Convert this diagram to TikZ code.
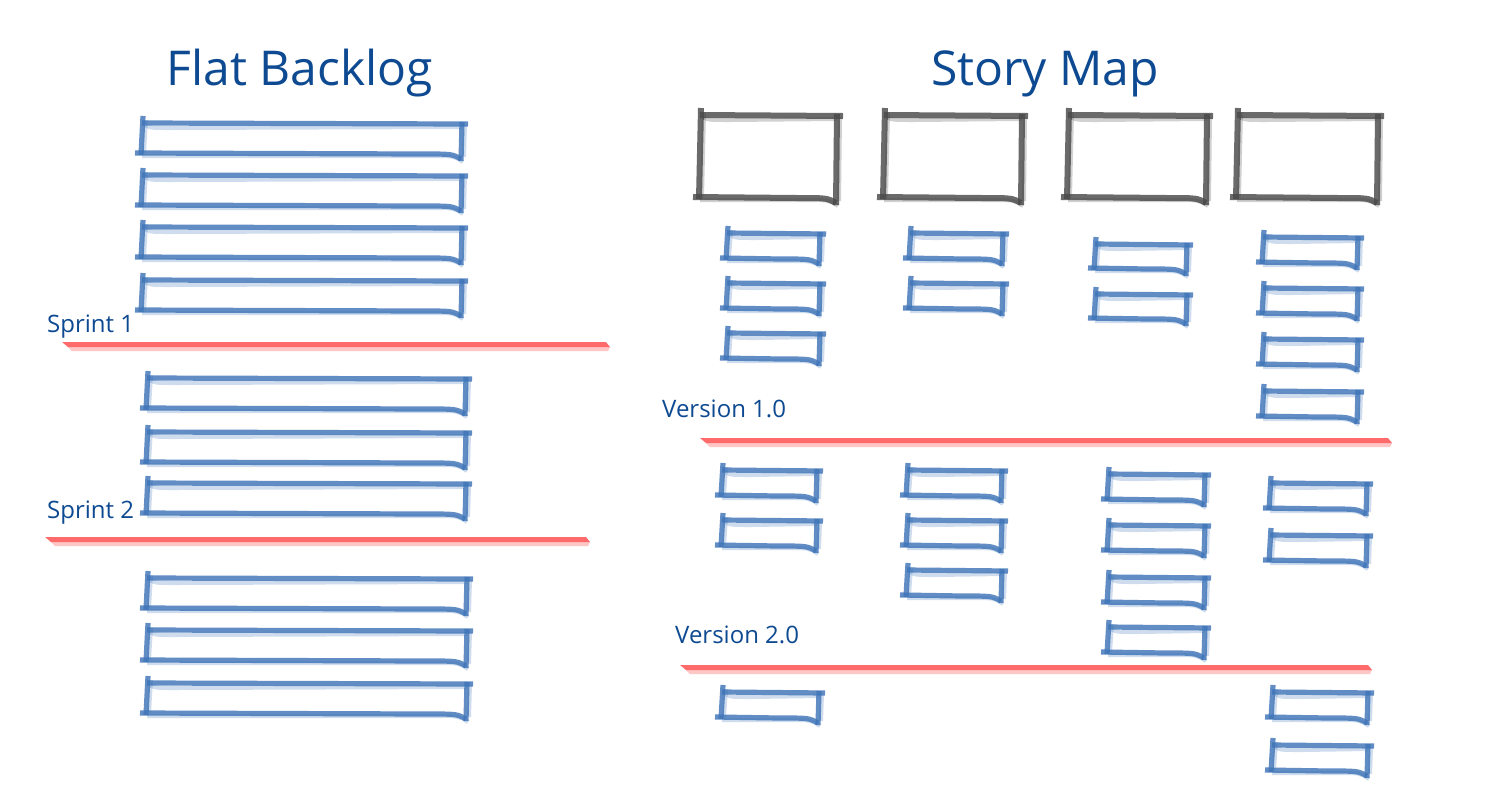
\documentclass[tikz,border=0pt]{standalone}
\usepackage{fontspec}
\setmainfont{Open Sans}
\usetikzlibrary{fit}
\definecolor{txtblue}{HTML}{0E4A91}
\definecolor{cardblue}{HTML}{3F75B8}
\definecolor{cardgray}{HTML}{4A4A4A}
\definecolor{linered}{HTML}{FF5C5C}
\tikzset{
  x=1pt, y=-1pt,
  title/.style={font=\fontsize{48}{56}\selectfont, text=txtblue, inner sep=0pt, anchor=base},
  lbl/.style={font=\fontsize{24}{28}\selectfont, text=txtblue, inner sep=0pt, anchor=base west},
  bluecard/.style={draw=cardblue},
  graycard/.style={draw=cardgray, stroke/.append style={line width=6pt}},
  stroke/.style={line width=5.2pt, draw opacity=.82, line cap=butt},
  halo/.style={line width=4pt, draw opacity=.25, line cap=butt},
  redmain/.style={fill=linered, fill opacity=.9},
  redhalo/.style={fill=linered, fill opacity=.35},
}
% name, x1, y1, x2, y2, style
\newcommand\card[6]{%
  \coordinate (#1-a) at (#2,#3);
  \coordinate (#1-b) at (#4,#5);
  \node[fit=(#1-a)(#1-b), inner sep=0pt] (#1) {};
  \begin{scope}[#6]
    \draw[stroke] ({#2+1},{#3-7}) -- ({#2-1},{#5+2});
    \draw[halo] ({#2+4},{#3-3}) -- ({#2+2},{#5});
    \draw[stroke] ({#2},{#3}) -- ({#4+6},{#3+1});
    \draw[halo] ({#2+3},{#3+2}) .. controls ({#2+8},{#3+5}) .. ({#2+30},{#3+5}) -- ({#4},{#3+4});
    \draw[stroke] ({#4},{#3-1}) -- ({#4-1},{#5+8});
    \draw[halo] ({#4+3},{#3+2}) -- ({#4+2},{#5+4});
    \draw[stroke] ({#2-7},{#5}) -- ({#4-40},{#5+1}) .. controls ({#4-10},{#5+1}) .. ({#4-1},{#5+6});
    \draw[halo] ({#2},{#5+3}) -- ({#4-30},{#5+3}) .. controls ({#4-8},{#5+3}) .. ({#4+1},{#5+9});
  \end{scope}}
% name, x1, x2, y
\newcommand\redline[4]{%
  \coordinate (#1-l) at (#2,#4);
  \coordinate (#1-r) at (#3,#4);
  \fill[redmain] (#2,{#4-4}) -- ({#3-4},{#4-4}) -- ({#3},{#4+1}) -- ({#2+6},{#4+1}) -- cycle;
  \fill[redhalo] ({#2+6},{#4+1}) -- ({#3},{#4+1}) -- ({#3-2},{#4+5}) -- ({#2+10},{#4+5}) -- cycle;}
\begin{document}
\begin{tikzpicture}
\useasboundingbox (0,0) rectangle (1497,807);
\fill[white] (0,0) rectangle (1497,807);

% titles
\node[title] (t1) at (300,85) {Flat Backlog};
\node[title] (t2) at (1045,85) {Story Map};

% flat backlog
\card{f1}{142}{123}{462}{153}{bluecard}
\card{f2}{142}{175}{462}{205}{bluecard}
\card{f3}{142}{227}{462}{257}{bluecard}
\card{f4}{142}{280}{462}{310}{bluecard}
\node[lbl] (s1) at (47,332) {Sprint 1};
\redline{r1}{62}{610}{346}
\card{f5}{147}{378}{466}{408}{bluecard}
\card{f6}{147}{432}{466}{462}{bluecard}
\card{f7}{147}{483}{466}{513}{bluecard}
\node[lbl] (s2) at (47,518) {Sprint 2};
\redline{r2}{45}{590}{541}
\card{f8}{147}{578}{467}{608}{bluecard}
\card{f9}{147}{630}{467}{660}{bluecard}
\card{f10}{147}{683}{467}{713}{bluecard}

% story map: activities
\card{a1}{700}{115}{837}{197}{graycard}
\card{a2}{884}{115}{1022}{197}{graycard}
\card{a3}{1068}{115}{1207}{197}{graycard}
\card{a4}{1237}{115}{1378}{197}{graycard}

% release 1
\card{c11}{727}{233}{820}{258}{bluecard}
\card{c12}{727}{283}{820}{308}{bluecard}
\card{c13}{727}{333}{820}{358}{bluecard}
\card{c21}{910}{233}{1003}{258}{bluecard}
\card{c22}{910}{283}{1003}{308}{bluecard}
\card{c31}{1095}{244}{1187}{268}{bluecard}
\card{c32}{1095}{294}{1187}{318}{bluecard}
\card{c41}{1263}{237}{1358}{262}{bluecard}
\card{c42}{1263}{288}{1358}{313}{bluecard}
\card{c43}{1263}{339}{1358}{364}{bluecard}
\card{c44}{1263}{391}{1358}{416}{bluecard}
\node[lbl] (v1) at (662,417) {Version 1.0};
\redline{r3}{700}{1392}{442}

% release 2
\card{d11}{722}{470}{817}{495}{bluecard}
\card{d12}{722}{520}{817}{545}{bluecard}
\card{d21}{907}{470}{1002}{495}{bluecard}
\card{d22}{907}{520}{1002}{545}{bluecard}
\card{d23}{907}{570}{1002}{595}{bluecard}
\card{d31}{1108}{474}{1205}{499}{bluecard}
\card{d32}{1108}{525}{1205}{550}{bluecard}
\card{d33}{1108}{577}{1205}{602}{bluecard}
\card{d34}{1108}{627}{1205}{652}{bluecard}
\card{d41}{1270}{483}{1367}{508}{bluecard}
\card{d42}{1270}{535}{1367}{560}{bluecard}
\node[lbl] (v2) at (675,643) {Version 2.0};
\redline{r4}{680}{1372}{669}

% later
\card{e11}{722}{692}{819}{717}{bluecard}
\card{e41}{1272}{692}{1368}{717}{bluecard}
\card{e42}{1272}{745}{1368}{770}{bluecard}
\end{tikzpicture}
\end{document}
